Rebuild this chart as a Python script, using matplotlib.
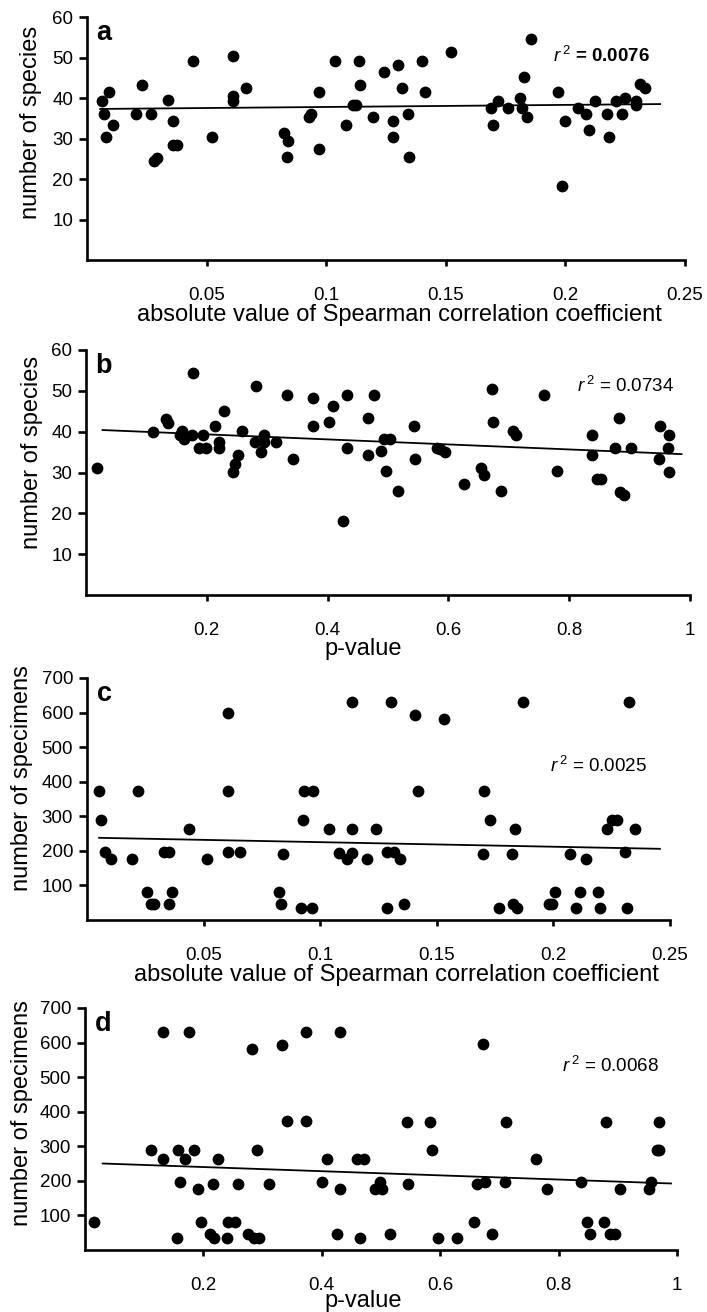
import matplotlib
matplotlib.use("Agg")
import matplotlib.pyplot as plt

plt.rcParams['font.family'] = ['Liberation Sans', 'DejaVu Sans']
plt.rcParams['mathtext.fontset'] = 'custom'
plt.rcParams['mathtext.rm'] = 'Liberation Sans'
plt.rcParams['mathtext.it'] = 'Liberation Sans:italic'

# ===== data =====

# a: species vs |Spearman rho|
a_x = [0.0063, 0.0069, 0.0078, 0.0093, 0.0108, 0.0206, 0.0231, 0.0268, 0.0281, 0.0292,
       0.0339, 0.0358, 0.0358, 0.0378, 0.0443, 0.0524, 0.0611, 0.0611, 0.0611, 0.0663,
       0.0824, 0.0840, 0.0836, 0.0928, 0.0938, 0.0968, 0.0968, 0.1035, 0.1082, 0.1111,
       0.1136, 0.1142, 0.1125, 0.1194, 0.1240, 0.1278, 0.1278, 0.1301, 0.1317, 0.1340,
       0.1347, 0.1400, 0.1415, 0.1522, 0.1689, 0.1696, 0.1720, 0.1758, 0.1811, 0.1817,
       0.1825, 0.1840, 0.1856, 0.1969, 0.1985, 0.2000, 0.2053, 0.2085, 0.2099, 0.2122,
       0.2175, 0.2183, 0.2212, 0.2236, 0.2250, 0.2294, 0.2297, 0.2313, 0.2333]
a_y = [39.3, 36.1, 30.3, 41.5, 33.4, 36.1, 43.3, 36.1, 24.5, 25.3,
       39.4, 34.4, 28.4, 28.4, 49.1, 30.3, 50.4, 40.4, 39.3, 42.4,
       31.4, 29.4, 25.5, 35.3, 36.1, 41.5, 27.3, 49.1, 33.4, 38.3,
       49.1, 43.3, 38.3, 35.3, 46.5, 34.4, 30.4, 48.2, 42.4, 36.1,
       25.4, 49.1, 41.5, 51.3, 37.5, 33.4, 39.3, 37.5, 40.1, 37.5,
       45.1, 35.3, 54.5, 41.5, 18.3, 34.4, 37.5, 36.1, 32.2, 39.3,
       36.1, 30.4, 39.3, 36.1, 40.1, 39.3, 38.3, 43.5, 42.4]
a_fit_x = [0.0055, 0.2396]
a_fit_y = [37.3, 38.5]

# b: species vs p-value
b_x = [0.0186, 0.1110, 0.1326, 0.1359, 0.1589, 0.1560, 0.1620, 0.1753, 0.1770, 0.1863,
       0.1929, 0.1989, 0.2137, 0.2197, 0.2197, 0.2290, 0.2438, 0.2460, 0.2520, 0.2586,
       0.2795, 0.2822, 0.2893, 0.2948, 0.2948, 0.3151, 0.3326, 0.3425, 0.3753, 0.3753,
       0.4027, 0.4082, 0.4263, 0.4318, 0.4318, 0.4767, 0.4668, 0.4668, 0.4888, 0.4942,
       0.5040, 0.4959, 0.5160, 0.5436, 0.5452, 0.5808, 0.5863, 0.5945, 0.6263, 0.6537,
       0.6592, 0.6718, 0.6745, 0.6866, 0.7068, 0.7123, 0.7589, 0.7797, 0.8373, 0.8373,
       0.8455, 0.8521, 0.8756, 0.8822, 0.8849, 0.8915, 0.9025, 0.9480, 0.9507, 0.9630,
       0.9660, 0.9660]
b_y = [31.2, 40.0, 43.1, 42.2, 40.1, 39.3, 38.3, 39.3, 54.4, 36.1,
       39.2, 36.1, 41.4, 37.5, 36.1, 45.0, 30.2, 32.1, 34.3, 40.1,
       37.5, 51.3, 35.1, 39.2, 37.5, 37.5, 49.0, 33.3, 48.2, 41.4,
       42.3, 46.4, 18.2, 49.0, 36.1, 49.0, 43.3, 34.3, 35.2, 38.3,
       38.3, 30.3, 25.4, 41.5, 33.3, 36.1, 35.7, 35.1, 27.2, 31.2,
       29.4, 50.4, 42.4, 25.4, 40.1, 39.2, 49.0, 30.3, 39.2, 34.3,
       28.5, 28.5, 36.1, 43.3, 25.3, 24.5, 36.1, 33.4, 41.5, 36.1,
       39.2, 30.2]
b_fit_x = [0.0274, 0.986]
b_fit_y = [40.4, 34.5]

# c: specimens vs |Spearman rho|
c_x = [0.0052, 0.0059, 0.0076, 0.0101, 0.0194, 0.0217, 0.0256, 0.0273, 0.0289, 0.0330,
       0.0352, 0.0352, 0.0366, 0.0438, 0.0516, 0.0603, 0.0603, 0.0603, 0.0655, 0.0825,
       0.0832, 0.0839, 0.0917, 0.0925, 0.0931, 0.0967, 0.0963, 0.1036, 0.1082, 0.1114,
       0.1135, 0.1137, 0.1135, 0.1240, 0.1199, 0.1287, 0.1305, 0.1287, 0.1316, 0.1342,
       0.1358, 0.1405, 0.1421, 0.1530, 0.1697, 0.1703, 0.1726, 0.1767, 0.1822, 0.1826,
       0.1836, 0.1843, 0.1869, 0.1980, 0.1994, 0.2009, 0.2073, 0.2098, 0.2112, 0.2138,
       0.2191, 0.2198, 0.2230, 0.2253, 0.2274, 0.2307, 0.2315, 0.2325, 0.2348]
c_y = [372, 288, 196, 177, 177, 372, 82, 45, 45, 198,
       198, 45, 82, 262, 177, 599, 372, 198, 198, 82,
       45, 192, 35, 288, 372, 372, 35, 262, 194, 177,
       194, 630, 262, 262, 177, 198, 630, 35, 198, 177,
       45, 593, 372, 582, 192, 372, 288, 35, 192, 45,
       262, 35, 630, 45, 45, 82, 192, 35, 82, 177,
       82, 35, 262, 288, 288, 198, 35, 630, 262]
c_fit_x = [0.0052, 0.2457]
c_fit_y = [237.7, 205.9]

# d: specimens vs p-value
d_x = [0.0158, 0.1115, 0.1324, 0.1324, 0.1549, 0.1577, 0.1606, 0.1696, 0.1763, 0.1848,
       0.1910, 0.1966, 0.2113, 0.2158, 0.2186, 0.2248, 0.2406, 0.2423, 0.2530, 0.2586,
       0.2755, 0.2817, 0.2856, 0.2901, 0.2935, 0.3115, 0.3330, 0.3420, 0.3735, 0.3735,
       0.4006, 0.4085, 0.4265, 0.4310, 0.4310, 0.4603, 0.4721, 0.4640, 0.4975, 0.4901,
       0.5025, 0.5144, 0.5437, 0.5454, 0.5820, 0.5854, 0.5955, 0.6282, 0.6563, 0.6620,
       0.6761, 0.6721, 0.6873, 0.7099, 0.7115, 0.7611, 0.7803, 0.8383, 0.8479, 0.8535,
       0.8761, 0.8806, 0.8873, 0.8958, 0.9031, 0.9521, 0.9561, 0.9662, 0.9690, 0.9690]
d_y = [82, 288, 630, 262, 35, 288, 198, 262, 630, 288,
       177, 82, 45, 192, 35, 262, 35, 82, 82, 192,
       45, 582, 35, 288, 35, 192, 593, 372, 630, 372,
       198, 262, 45, 630, 177, 262, 262, 35, 197, 177,
       177, 45, 371, 192, 371, 288, 35, 35, 82, 192,
       198, 597, 45, 198, 371, 262, 177, 198, 82, 45,
       82, 371, 45, 45, 177, 177, 196, 288, 288, 371]
d_fit_x = [0.0299, 0.9899]
d_fit_y = [250.2, 192.4]

rho_ticks = [0.05, 0.1, 0.15, 0.2, 0.25]
rho_labels = ["0.05", "0.1", "0.15", "0.2", "0.25"]
p_ticks = [0.2, 0.4, 0.6, 0.8, 1.0]
p_labels = ["0.2", "0.4", "0.6", "0.8", "1"]
sp_ticks = [10, 20, 30, 40, 50, 60]
spec_ticks = [100, 200, 300, 400, 500, 600, 700]

xlab_rho = "absolute value of Spearman correlation coefficient"
xlab_p = "p-value"
ylab_sp = "number of species"
ylab_spec = "number of specimens"

W, H = 707, 1312
fig = plt.figure(figsize=(W / 100, H / 100), dpi=100)


def box(l, r, t, b):
    return [l / W, 1 - b / H, (r - l) / W, (b - t) / H]


panels = [
    # letter, x, y, fit x, fit y, xmax, ymax, xticks, xticklabels, yticks, xlabel, ylabel, r2, r2 weight,
    # pixel box, r2 pos, xlabel pos, ylabel pos
    ("a", a_x, a_y, a_fit_x, a_fit_y, 0.25, 60, rho_ticks, rho_labels, sp_ticks,
     xlab_rho, ylab_sp, "0.0076", "bold", (87, 685, 17, 260), (0.780, 0.816), (0.523, -0.18), (-0.075, 0.566)),
    ("b", b_x, b_y, b_fit_x, b_fit_y, 1.0, 60, p_ticks, p_labels, sp_ticks,
     xlab_p, ylab_sp, "0.0734", "normal", (86, 690, 350, 595), (0.813, 0.829), (0.459, -0.175), (-0.072, 0.583)),
    ("c", c_x, c_y, c_fit_x, c_fit_y, 0.25, 700, rho_ticks, rho_labels, spec_ticks,
     xlab_rho, ylab_spec, "0.0025", "normal", (87, 670, 678, 920), (0.794, 0.613), (0.530, -0.18), (-0.092, 0.587)),
    ("d", d_x, d_y, d_fit_x, d_fit_y, 1.0, 700, p_ticks, p_labels, spec_ticks,
     xlab_p, ylab_spec, "0.0068", "normal", (85, 677, 1008, 1250), (0.805, 0.737), (0.47, -0.165), (-0.087, 0.566)),
]

for (letter, xs, ys, fx, fy, xmax, ymax, xt, xtl, yt, xlab, ylab, r2, r2w,
     pbox, r2pos, xlpos, ylpos) in panels:
    ax = fig.add_axes(box(*pbox))
    ax.scatter(xs, ys, s=72, color="black", zorder=3, clip_on=False, linewidths=0)
    ax.plot(fx, fy, color="black", lw=1.3, zorder=2)

    ax.set_xlim(0, xmax)
    ax.set_ylim(0, ymax)
    ax.set_xticks(xt)
    ax.set_xticklabels(xtl)
    ax.set_yticks(yt)

    for side in ["top", "right"]:
        ax.spines[side].set_visible(False)
    for side in ["left", "bottom"]:
        ax.spines[side].set_linewidth(1.9)
    ax.tick_params(axis="x", direction="out", length=4, width=1.9, pad=15.5, labelsize=13.5)
    ax.tick_params(axis="y", direction="out", length=6, width=1.9, pad=4, labelsize=13.5)

    ax.set_xlabel(xlab, fontsize=17)
    ax.xaxis.set_label_coords(*xlpos)
    ax.set_ylabel(ylab, fontsize=17)
    ax.yaxis.set_label_coords(*ylpos)

    ax.annotate(letter, xy=(0, 1), xycoords="axes fraction", xytext=(7, -16.5),
                textcoords="offset points", fontsize=19.5, fontweight="bold", va="baseline")
    ax.text(r2pos[0], r2pos[1], r"$\mathit{r}^{\,2}$ = " + r2, transform=ax.transAxes,
            fontsize=13.5, va="baseline", fontweight=r2w)

fig.savefig("out.png", dpi=100)
